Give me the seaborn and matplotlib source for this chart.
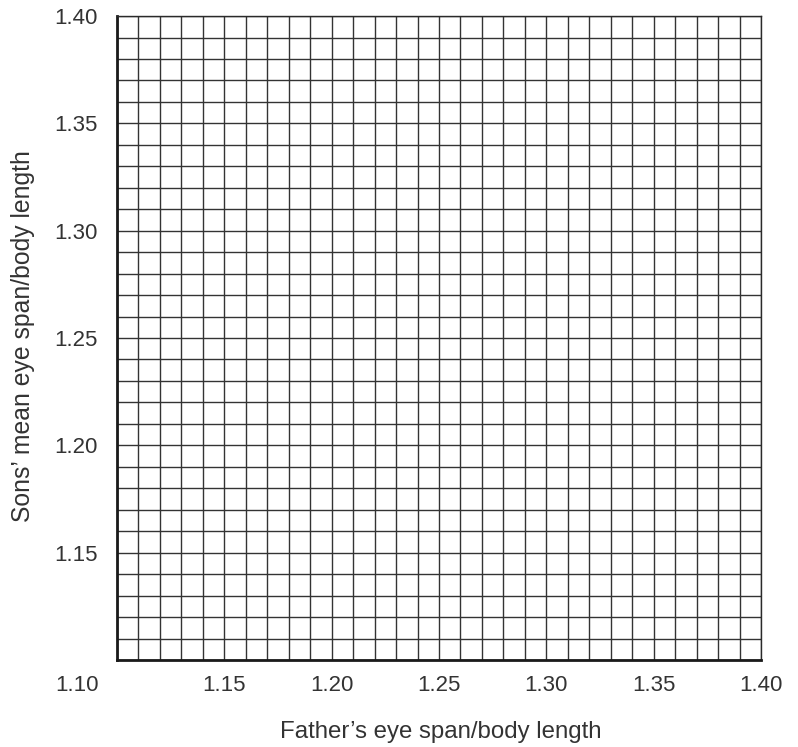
import numpy as np
import pandas as pd
import seaborn as sns
import matplotlib
matplotlib.use("Agg")
import matplotlib.pyplot as plt
from matplotlib.ticker import MultipleLocator

# ---- data (empty grid chart) ----
x_min, x_max = 1.10, 1.40
y_min, y_max = 1.10, 1.40
x_ticks = [1.15, 1.20, 1.25, 1.30, 1.35, 1.40]
x_tick_labels = ["1.15", "1.20", "1.25", "1.30", "1.35", "1.40"]
y_ticks = [1.15, 1.20, 1.25, 1.30, 1.35, 1.40]
y_tick_labels = ["1.15", "1.20", "1.25", "1.30", "1.35", "1.40"]
origin_label = "1.10"
grid_step = 0.01
x_label = "Father\u2019s eye span/body length"
y_label = "Sons\u2019 mean eye span/body length"

sns.set_theme(style="white")
plt.rcParams['font.family'] = ['Liberation Sans', 'DejaVu Sans']

fig = plt.figure(figsize=(7.98, 7.47), dpi=100)
ax = fig.add_axes([0.1466, 0.1165, 0.807, 0.862])

df = pd.DataFrame({"father": pd.Series([], dtype=float), "sons": pd.Series([], dtype=float)})
sns.scatterplot(data=df, x="father", y="sons", ax=ax)

ax.set_xlim(x_min, x_max)
ax.set_ylim(y_min, y_max)

ax.xaxis.set_minor_locator(MultipleLocator(grid_step))
ax.yaxis.set_minor_locator(MultipleLocator(grid_step))
ax.set_xticks(x_ticks)
ax.set_xticklabels(x_tick_labels)
ax.set_yticks(y_ticks)
ax.set_yticklabels(y_tick_labels)
ax.grid(True, which="both", color="#333333", linewidth=1.0)
ax.set_axisbelow(True)

text_color = "#333333"
ax.tick_params(axis="both", which="both", length=0, labelsize=16, labelcolor=text_color)
ax.tick_params(axis="x", pad=11)
ax.tick_params(axis="y", pad=14)

for side in ["left", "bottom"]:
    ax.spines[side].set_linewidth(2.0)
    ax.spines[side].set_color("#1a1a1a")
for side in ["top", "right"]:
    ax.spines[side].set_linewidth(1.0)
    ax.spines[side].set_color("#2a2a2a")
for s in ax.spines.values():
    s.set_visible(True)

ax.set_xlabel(x_label, fontsize=17.3, color=text_color)
ax.xaxis.set_label_coords(0.503, -0.112)
ax.xaxis.label.set_va("center")
ax.set_ylabel(y_label, fontsize=17.8, color=text_color)
ax.yaxis.set_label_coords(-0.146, 0.503)
ax.yaxis.label.set_va("center")

# origin label at lower-left corner
ax.text(-0.029, -0.039, origin_label, transform=ax.transAxes, ha="right", va="center",
        fontsize=16, color=text_color)

fig.savefig("out.png", dpi=100)
